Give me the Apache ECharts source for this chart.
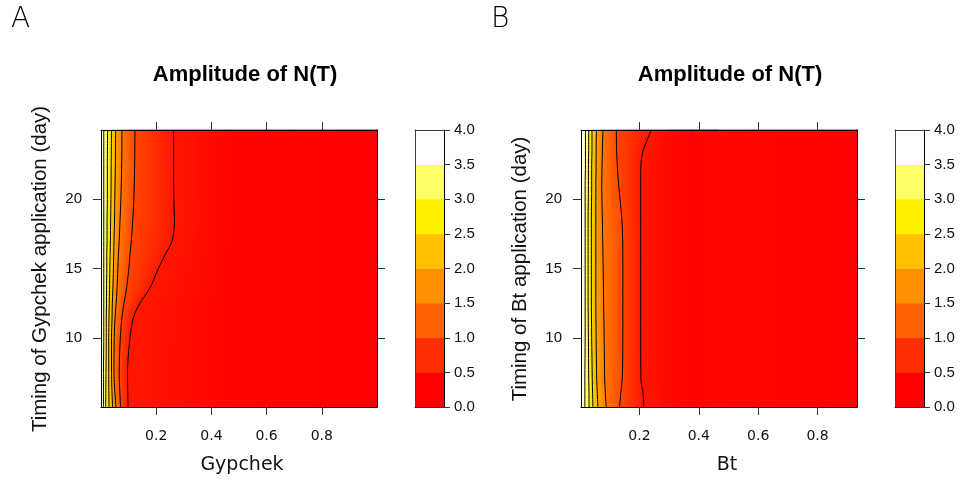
<!DOCTYPE html>
<html><head><meta charset="utf-8">
<script src="https://cdn.jsdelivr.net/npm/echarts@6/dist/echarts.min.js"></script>
<style>html,body{margin:0;padding:0;background:#fff}#c{width:966px;height:482px}</style>
</head><body><div id="c"></div>
<script>
// ---------------- data ----------------
const levels = [3.5, 3.0, 2.5, 2.0, 1.5, 1.0, 0.5];

// Panel A : Gypchek — x position of each contour level at each timing (day)
const daysA = [5, 7.5, 10, 11.5, 12.5, 13.5, 15, 16, 17, 18.5, 20, 22.5, 25];
const gypchek_35 = [0.009,0.009,0.010,0.010,0.010,0.010,0.010,0.010,0.010,0.010,0.010,0.010,0.010];
const gypchek_30 = [0.017,0.018,0.019,0.019,0.020,0.020,0.021,0.021,0.022,0.022,0.023,0.023,0.024];
const gypchek_25 = [0.029,0.028,0.028,0.029,0.030,0.031,0.032,0.033,0.034,0.035,0.036,0.037,0.038];
const gypchek_20 = [0.042,0.038,0.038,0.040,0.041,0.043,0.045,0.046,0.047,0.049,0.050,0.052,0.053];
const gypchek_15 = [0.054,0.047,0.048,0.051,0.055,0.058,0.061,0.063,0.066,0.069,0.072,0.075,0.076];
const gypchek_10 = [0.071,0.066,0.070,0.076,0.083,0.092,0.101,0.105,0.110,0.115,0.119,0.122,0.123];
const gypchek_05 = [0.098,0.096,0.105,0.118,0.141,0.175,0.208,0.232,0.258,0.266,0.264,0.263,0.263];
const gypchekEdge = 3.9;                 // value at x = 0
const gypchekTailX = [0.45, 1.0];        // beyond the 0.5 contour
const gypchekTailV = [0.30, 0.22];

// Panel B : Bt
const daysB = [5, 6, 7, 10, 13, 16, 18.5, 21, 22.5, 23.5, 25];
const bt_35 = [0.016,0.016,0.016,0.017,0.017,0.017,0.017,0.017,0.018,0.018,0.018];
const bt_30 = [0.030,0.030,0.029,0.028,0.027,0.027,0.027,0.028,0.028,0.029,0.029];
const bt_25 = [0.043,0.042,0.041,0.039,0.038,0.038,0.038,0.039,0.039,0.040,0.040];
const bt_20 = [0.060,0.058,0.056,0.054,0.053,0.053,0.053,0.053,0.054,0.054,0.055];
const bt_15 = [0.088,0.085,0.083,0.081,0.079,0.077,0.075,0.073,0.074,0.075,0.077];
const bt_10 = [0.133,0.137,0.142,0.144,0.144,0.144,0.141,0.130,0.125,0.123,0.122];
const bt_05 = [0.214,0.212,0.205,0.204,0.204,0.204,0.204,0.204,0.205,0.212,0.240];
const btEdge = 3.9;
const btTailX = [0.30, 0.38, 0.46, 0.933];
const btTailV = [0.36, 0.28, 0.34, 0.26];

// colour key
const keyEdges  = [0, 0.5, 1.0, 1.5, 2.0, 2.5, 3.0, 3.5, 4.0];
const keyColors = ['#FF0000','#FF2E00','#FF6000','#FF9000','#FFC200','#FFF000','#FFFF66','#FFFFFF'];

// ticks / labels
const xTicks = [0.2, 0.4, 0.6, 0.8];
const yTicks = [10, 15, 20];
const title = 'Amplitude of N(T)';

// ---------------- helpers ----------------
function hex2rgb(h){return [parseInt(h.slice(1,3),16),parseInt(h.slice(3,5),16),parseInt(h.slice(5,7),16)];}
const rampRGB = keyColors.map(hex2rgb);
const rampV = keyEdges.slice(0,-1).map((e,i)=>(e+keyEdges[i+1])/2);
function colorOf(v){
  if (v <= rampV[0]) return keyColors[0];
  if (v >= rampV[rampV.length-1]) return keyColors[keyColors.length-1];
  for (let i=0;i<rampV.length-1;i++){
    if (v>=rampV[i] && v<=rampV[i+1]){
      const t=(v-rampV[i])/(rampV[i+1]-rampV[i]);
      const a=rampRGB[i], b=rampRGB[i+1];
      return 'rgb('+a.map((c,k)=>Math.round(c+(b[k]-c)*t)).join(',')+')';
    }
  }
}

function fillSeries(axisIdx, days, lines, edgeV, tailX, tailV, xmin){
  const bx = days.map((d,j)=>[xmin].concat(lines.map(l=>l[j]), tailX));
  const bv = [edgeV].concat(levels, tailV);
  const data = [];
  for (let j=0;j<days.length-1;j++) for (let k=0;k<bv.length-1;k++) data.push([bx[j][k], days[j], k, j]);
  const S = 6;
  return {
    type:'custom', coordinateSystem:'cartesian2d', xAxisIndex:axisIdx, yAxisIndex:axisIdx,
    silent:true, z:1, data, encode:{x:0,y:1},
    renderItem:function(params, api){
      const k=api.value(2), j=api.value(3);
      const c0=colorOf(bv[k]), c1=colorOf(bv[k+1]);
      const children=[];
      for (let s=0;s<S;s++){
        const t0=s/S, t1=(s+1)/S;
        const d0=days[j]+(days[j+1]-days[j])*t0, d1=days[j]+(days[j+1]-days[j])*t1;
        const xl0=bx[j][k]+(bx[j+1][k]-bx[j][k])*t0, xl1=bx[j][k]+(bx[j+1][k]-bx[j][k])*t1;
        const xr0=bx[j][k+1]+(bx[j+1][k+1]-bx[j][k+1])*t0, xr1=bx[j][k+1]+(bx[j+1][k+1]-bx[j][k+1])*t1;
        const p1=api.coord([xl0,d0]), p2=api.coord([xr0,d0]), p3=api.coord([xr1,d1]), p4=api.coord([xl1,d1]);
        // slight overlap so neighbouring pieces leave no anti-aliasing seams
        p1[1]+=0.6; p2[1]+=0.6; p3[1]-=0.6; p4[1]-=0.6;
        p1[0]-=0.4; p4[0]-=0.4; p2[0]+=0.4; p3[0]+=0.4;
        const L=(p1[0]+p4[0])/2, R=(p2[0]+p3[0])/2;
        const g=new echarts.graphic.LinearGradient(L,0,Math.max(R,L+0.01),0,[{offset:0,color:c0},{offset:1,color:c1}],true);
        children.push({type:'polygon',shape:{points:[p1,p2,p3,p4]},style:{fill:g}});
      }
      return {type:'group',children};
    }
  };
}
function lineSeries(axisIdx, days, lines){
  return lines.map(l=>({
    type:'line', xAxisIndex:axisIdx, yAxisIndex:axisIdx, silent:true, z:3,
    data: days.map((d,j)=>[l[j], d]), symbol:'none', smooth:0.3,
    lineStyle:{color:'#000', width:1}
  }));
}
function keySeries(axisIdx){
  return {
    type:'custom', coordinateSystem:'cartesian2d', xAxisIndex:axisIdx, yAxisIndex:axisIdx, silent:true, z:1,
    data: keyColors.map((c,i)=>[0, keyEdges[i], keyEdges[i+1], i]), encode:{x:0,y:1},
    renderItem:function(params, api){
      const i=api.value(3);
      const a=api.coord([0, api.value(1)]), b=api.coord([1, api.value(2)]);
      return {type:'rect', shape:{x:a[0], y:b[1]-0.3, width:b[0]-a[0], height:a[1]-b[1]+0.6}, style:{fill:keyColors[i]}};
    }
  };
}

const black='#000', tickCol='#333';
const baseLine={show:true,onZero:false,lineStyle:{color:black,width:1}};
function plotX(grid,min,max,pos,labels){
  return {gridIndex:grid,type:'value',min,max,position:pos,z:10,axisLine:baseLine,
    axisTick:{show:true,inside:false,length:8,customValues:xTicks,lineStyle:{color:tickCol}},
    axisLabel:{show:labels,customValues:xTicks,margin:22,fontFamily:'DejaVu Sans',fontSize:14,color:'#111',formatter:v=>v.toFixed(1)},
    splitLine:{show:false}};
}
function plotY(grid,pos,labels){
  return {gridIndex:grid,type:'value',min:5,max:25,position:pos,z:10,axisLine:baseLine,
    axisTick:{show:true,inside:false,length:8,customValues:yTicks,lineStyle:{color:tickCol}},
    axisLabel:{show:labels,customValues:yTicks,margin:19,fontFamily:'Liberation Sans',fontSize:15,color:'#111'},
    splitLine:{show:false}};
}
function keyX(grid,pos){
  return {gridIndex:grid,type:'value',min:0,max:1,position:pos,z:10,axisLine:{show:true,onZero:false,lineStyle:{color:'#333',width:1}},
    axisTick:{show:false},axisLabel:{show:false},splitLine:{show:false}};
}
function keyYRight(grid){
  return {gridIndex:grid,type:'value',min:0,max:4,interval:0.5,position:'right',z:10,axisLine:{show:true,onZero:false,lineStyle:{color:black,width:1}},
    axisTick:{show:true,inside:false,length:6,lineStyle:{color:tickCol}},
    axisLabel:{margin:10,fontFamily:'Liberation Sans',fontSize:15,color:'#111',formatter:v=>v.toFixed(1)},splitLine:{show:false}};
}
function keyYLeft(grid){
  return {gridIndex:grid,type:'value',min:0,max:4,position:'left',z:10,axisLine:{show:true,onZero:false,lineStyle:{color:'#444',width:1}},
    axisTick:{show:false},axisLabel:{show:false},splitLine:{show:false}};
}

const linesA=[gypchek_35,gypchek_30,gypchek_25,gypchek_20,gypchek_15,gypchek_10,gypchek_05];
const linesB=[bt_35,bt_30,bt_25,bt_20,bt_15,bt_10,bt_05];
const xminA=0, xmaxA=1, xminB=0.003, xmaxB=0.933;

const option={
  animation:false,
  backgroundColor:'#fff',
  grid:[
    {left:101,top:130,width:276,height:277},
    {left:415,top:130,width:29,height:277},
    {left:581,top:130,width:276,height:277},
    {left:895,top:130,width:29,height:277}
  ],
  xAxis:[
    plotX(0,xminA,xmaxA,'bottom',true), plotX(0,xminA,xmaxA,'top',false),
    keyX(1,'bottom'), keyX(1,'top'),
    plotX(2,xminB,xmaxB,'bottom',true), plotX(2,xminB,xmaxB,'top',false),
    keyX(3,'bottom'), keyX(3,'top')
  ],
  yAxis:[
    plotY(0,'left',true), plotY(0,'right',false),
    keyYRight(1), keyYLeft(1),
    plotY(2,'left',true), plotY(2,'right',false),
    keyYRight(3), keyYLeft(3)
  ],
  series:[
    fillSeries(0,daysA,linesA,gypchekEdge,gypchekTailX,gypchekTailV,xminA),
    ...lineSeries(0,daysA,linesA),
    keySeries(2),
    fillSeries(4,daysB,linesB,btEdge,btTailX,btTailV,xminB),
    ...lineSeries(4,daysB,linesB),
    keySeries(6)
  ],
  graphic:[
    {type:'text',x:11,y:20,style:{text:'A',font:'200 28px "DejaVu Sans"',fill:'#000',textAlign:'left',textVerticalAlign:'middle'}},
    {type:'text',x:491,y:20,style:{text:'B',font:'200 28px "DejaVu Sans"',fill:'#000',textAlign:'left',textVerticalAlign:'middle'}},
    {type:'text',x:245,y:75,style:{text:title,font:'bold 22px "Liberation Sans"',fill:'#000',textAlign:'center',textVerticalAlign:'middle'}},
    {type:'text',x:730,y:75,style:{text:title,font:'bold 22px "Liberation Sans"',fill:'#000',textAlign:'center',textVerticalAlign:'middle'}},
    {type:'text',x:242,y:465,style:{text:'Gypchek',font:'19px "DejaVu Sans"',fill:'#111',textAlign:'center',textVerticalAlign:'middle'}},
    {type:'text',x:727,y:465,style:{text:'Bt',font:'19px "DejaVu Sans"',fill:'#111',textAlign:'center',textVerticalAlign:'middle'}},
    {type:'text',x:40,y:269,rotation:Math.PI/2,style:{text:'Timing of Gypchek application (day)',font:'20.5px "Liberation Sans"',fill:'#111',textAlign:'center',textVerticalAlign:'middle'}},
    {type:'text',x:520,y:269,rotation:Math.PI/2,style:{text:'Timing of Bt application (day)',font:'20.5px "Liberation Sans"',fill:'#111',textAlign:'center',textVerticalAlign:'middle'}}
  ]
};
const chart=echarts.init(document.getElementById('c'),null,{renderer:'canvas'});
chart.setOption(option);
</script></body></html>
